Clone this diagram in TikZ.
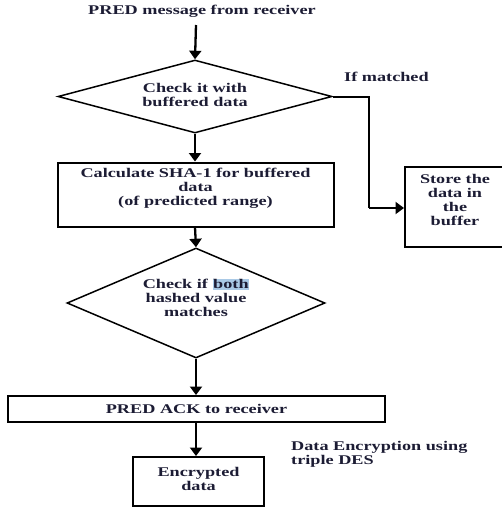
\documentclass[tikz,border=0pt]{standalone}
\usepackage{fontspec}
\setmainfont[FakeStretch=1.37]{Liberation Serif}
\usetikzlibrary{shapes.geometric,arrows.meta}
\definecolor{txt}{HTML}{1C1C34}
\definecolor{hl}{HTML}{A9C9E6}
\begin{document}
\begin{tikzpicture}[x=1pt,y=-1pt,
  every node/.style={font=\bfseries\fontsize{13.3}{14}\selectfont, text=txt, align=center, inner sep=0pt},
  box/.style={draw=black, line width=2pt, rectangle},
  dia/.style={draw=black, line width=1.5pt, diamond, shape aspect=1},
  arr/.style={line width=2.3pt, -{Triangle[width=12pt,length=8.5pt]}},
  conn/.style={line width=2pt}
]
\useasboundingbox (0,0) rectangle (501,509);
\node (title) at (202,11) {PRED message from receiver};
\coordinate (tstart) at (196,25);
% diamond 1
\node[dia, minimum width=274pt, minimum height=73pt] (d1) at (195,96.5) {};
\node (d1t) at (195,94.5) {Check it with\\buffered data};
% box 2
\node[box, minimum width=276pt, minimum height=64pt] (b2) at (195.5,194.5) {};
\node (b2t) at (195.5,188) {Calculate SHA-1 for buffered\\data\\(of predicted range)};
% store box
\node[box, minimum width=98pt, minimum height=80pt] (sb) at (454,207) {};
\node (sbt) at (455,200) {Store the\\data in\\the\\buffer};
\node[anchor=west] (ifm) at (344,77) {If matched};
% diamond 2
\node[dia, minimum width=258pt, minimum height=110pt] (d2) at (196,303) {};
\node (d2t) at (196,298) {Check if {\setlength\fboxsep{0.6pt}\colorbox{hl}{both}}\\hashed value\\matches};
% PRED ACK
\node[box, minimum width=377pt, minimum height=26pt] (ack) at (196.5,409) {};
\node (ackt) at (196.5,409) {PRED ACK to receiver};
% encrypted
\node[box, minimum width=131pt, minimum height=49pt] (enc) at (198.5,481.5) {};
\node (enct) at (198.5,479) {Encrypted\\data};
\node[anchor=west, align=left] (des) at (291,454.5) {Data Encryption using\\triple DES};
% connectors
\draw[arr] (tstart) -- (d1.north);
\draw[arr] (d1.south) -- (b2.north -| d1.south);
\draw[arr] (b2.south -| d1.south) -- (d2.north);
\draw[arr] (d2.south) -- (ack.north -| d2.south);
\draw[arr] (ack.south -| d2.south) -- (enc.north -| d2.south);
\coordinate (c1) at (369,96.5);
\coordinate (c2) at (369,208);
\draw[conn] (d1.east) -- (c1) -- (c2);
\draw[arr] (c2) -- (c2 -| sb.west);
\end{tikzpicture}
\end{document}
